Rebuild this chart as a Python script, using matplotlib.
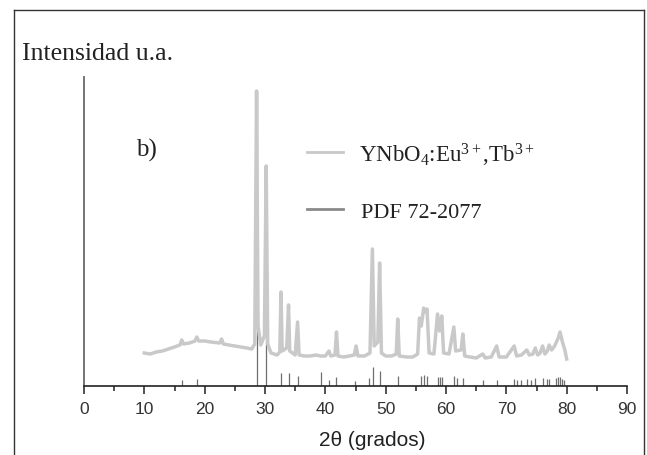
import matplotlib
matplotlib.use("Agg")
import matplotlib.pyplot as plt
from matplotlib.lines import Line2D

# XRD pattern of YNbO4:Eu3+,Tb3+ (2theta in degrees, intensity in a.u.)
pattern_2theta = [
    10.0, 11.0, 12.0, 13.0, 14.0, 15.0, 15.9, 16.2, 16.5, 17.5, 18.4, 18.7, 19.0,
    20.0, 21.0, 22.5, 22.8, 23.1, 24.0, 25.0, 26.0, 27.0, 27.8, 28.3, 28.6, 28.85,
    29.3, 29.9, 30.2, 30.45, 31.0, 32.0, 32.45, 32.65, 32.85, 33.6, 33.9, 34.1, 35.0,
    35.4, 35.65, 36.5, 37.5, 38.5, 39.2, 40.0, 40.6, 40.9, 41.6, 41.85, 42.1, 43.0,
    44.0, 44.8, 45.1, 45.4, 46.5, 47.4, 47.8, 48.1, 48.7, 49.0, 49.3, 50.0, 51.0,
    51.75, 52.0, 52.25, 53.5, 54.5, 55.3, 55.6, 55.9, 56.3, 56.6, 56.85, 57.2, 58.0,
    58.6, 58.95, 59.3, 59.6, 60.5, 61.3, 61.6, 62.5, 62.8, 63.1, 64.0, 65.0, 66.1,
    66.5, 67.5, 68.4, 68.8, 70.0, 71.3, 71.7, 72.5, 73.4, 73.8, 74.4, 74.8, 75.2,
    75.6, 76.0, 76.4, 76.8, 77.1, 77.5, 78.0, 78.6, 78.9, 79.3, 79.7, 80.0,
]
pattern_intensity = [
    33, 32, 34, 35, 37, 39, 41, 46, 42, 43, 45, 49, 45,
    45, 44, 43, 47, 42, 41, 40, 39, 38, 37, 42, 295, 60,
    41, 50, 220, 42, 33, 31, 34, 94, 35, 38, 81, 35, 31,
    64, 31, 30, 30, 31, 30, 30, 35, 30, 31, 54, 30, 29,
    30, 31, 40, 30, 30, 33, 137, 40, 44, 123, 33, 30, 30,
    32, 67, 30, 29, 29, 32, 68, 60, 78, 74, 77, 33, 32,
    72, 55, 70, 33, 32, 59, 35, 36, 52, 30, 29, 28, 32,
    28, 29, 40, 29, 29, 40, 30, 31, 36, 31, 32, 38, 31,
    33, 40, 32, 35, 41, 36, 40, 48, 54, 44, 36, 27,
]

# reference card PDF 72-2077 (stick positions and heights)
pdf_2theta = [
    16.2, 18.7, 28.6, 30.2, 32.65, 33.9, 35.4, 39.2, 40.6, 41.7, 44.9, 47.2, 47.9,
    49.1, 52.0, 55.8, 56.3, 56.8, 58.6, 59.0, 59.3, 61.4, 61.9, 62.8, 66.1, 68.4,
    71.3, 71.8, 72.5, 73.4, 74.1, 74.8, 76.0, 76.7, 77.1, 78.3, 78.6, 78.9, 79.2, 79.5,
]
pdf_intensity = [
    6.3, 7, 295, 220, 12.7, 13, 10.3, 13.7, 6.3, 8.7, 5.3, 8, 19,
    14.7, 10.3, 10.3, 11, 10.3, 8.7, 8.7, 8.7, 9.7, 8, 8, 6.3, 6.3,
    7, 6.3, 6.3, 7, 6.3, 8, 8, 7, 7, 8, 9, 9, 7, 6.3,
]

x_ticks = [0, 10, 20, 30, 40, 50, 60, 70, 80, 90]

W, H = 647, 456
SERIF = ["Liberation Serif", "DejaVu Serif"]
SANS = ["Liberation Sans", "DejaVu Sans"]

plt.rcParams["mathtext.fontset"] = "custom"
plt.rcParams["mathtext.rm"] = "Liberation Serif"
plt.rcParams["mathtext.it"] = "Liberation Serif:italic"
plt.rcParams["mathtext.bf"] = "Liberation Serif:bold"


def fx(px):
    return px / W


def fy(py):
    return 1 - py / H


fig = plt.figure(figsize=(W / 100, H / 100), dpi=100)
ax = fig.add_axes([fx(84), fy(387), (627 - 84) / W, (387 - 78) / H])

# sticks first, pattern drawn over them
ax.vlines(pdf_2theta, 0, pdf_intensity, colors="#6f6f6f", linewidth=0.9, zorder=2)
ax.plot(pattern_2theta, pattern_intensity, color="#c9c9c9", linewidth=2.5,
        solid_joinstyle="round", zorder=3)

ax.set_xlim(0, 90)
ax.set_ylim(0, 309)
for side in ("top", "right"):
    ax.spines[side].set_visible(False)
ax.spines["left"].set_color("#6a6a6a")
ax.spines["left"].set_linewidth(1.3)
ax.spines["bottom"].set_color("#222222")
ax.spines["bottom"].set_linewidth(1.2)
ax.set_yticks([])
ax.set_xticks(x_ticks)
ax.set_xticks([v + 5 for v in x_ticks[:-1]], minor=True)
ax.tick_params(axis="x", which="major", direction="out", length=6, width=1.1,
               color="#222222", pad=5)
ax.tick_params(axis="x", which="minor", direction="out", length=3.5, width=1.1,
               color="#222222")
for lab in ax.get_xticklabels():
    lab.set_family(SANS)
    lab.set_fontsize(12.5)
    lab.set_color("#333333")

fig.text(fx(372), fy(446), "2θ (grados)", ha="center", va="baseline",
         family=SANS, fontsize=15, color="#222222")

fig.text(fx(22), fy(60), "Intensidad u.a.", ha="left", va="baseline",
         family=SERIF, fontsize=18.5, color="#222222")
fig.text(fx(136), fy(157), "b)", ha="left", va="baseline",
         family=SERIF, fontsize=18, color="#222222")

# legend
fig.add_artist(Line2D([fx(307), fx(343)], [fy(153), fy(153)], color="#c9c9c9", linewidth=2))
fig.add_artist(Line2D([fx(307), fx(343)], [fy(210), fy(210)], color="#8a8a8a", linewidth=2))
fig.text(fx(359), fy(163), r"YNbO$_\mathrm{4}$:Eu$^\mathrm{3+}$,Tb$^\mathrm{3+}$",
         ha="left", va="baseline", family=SERIF, fontsize=16.5, color="#222222")
fig.text(fx(361), fy(218), "PDF 72-2077", ha="left", va="baseline",
         family=SERIF, fontsize=16, color="#222222")

# page frame around the figure
frame = dict(color="#333333", linewidth=1.0)
fig.add_artist(Line2D([fx(13.5), fx(13.5)], [fy(10.5), 0], **frame))
fig.add_artist(Line2D([fx(13.5), fx(644)], [fy(10.5), fy(10.5)], **frame))
fig.add_artist(Line2D([fx(644), fx(644)], [fy(10.5), 0], **frame))

fig.savefig("out.png", dpi=100)
